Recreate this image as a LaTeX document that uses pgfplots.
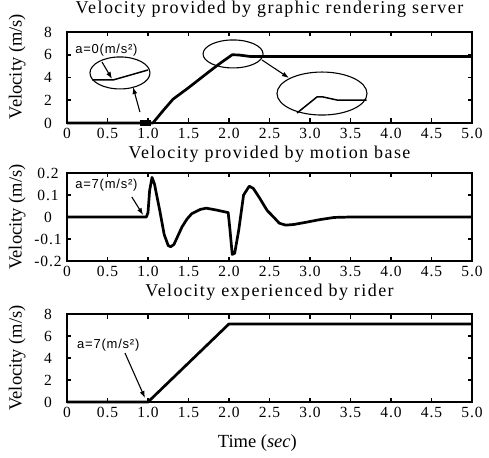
\documentclass[border=0pt]{standalone}
\usepackage{fontspec}
\setmainfont{Liberation Serif}
\newfontfamily\annfont{Liberation Sans}
\usepackage{pgfplots}
\pgfplotsset{compat=1.18}
\usetikzlibrary{arrows.meta}

\newcommand\ttlfont{\fontsize{18}{18}\selectfont\addfontfeatures{LetterSpace=8}}
\newcommand\tickfont{\fontsize{15.5}{15.5}\selectfont\addfontfeatures{LetterSpace=6}}
\newcommand\labfont{\fontsize{18.5}{18.5}\selectfont}
\newcommand\annfontsz{\annfont\fontsize{13}{13}\selectfont\addfontfeatures{LetterSpace=6}}

\tikzset{ann/.style={-{Latex[length=7pt,width=5pt]}, line width=1.1pt}}
\pgfplotsset{
  panel/.style={
    scale only axis, width=405pt, xmin=0, xmax=5,
    axis line style={line width=1.6pt},
    xtick={0,0.5,1,1.5,2,2.5,3,3.5,4,4.5,5},
    xticklabels={0,0.5,1.0,1.5,2.0,2.5,3.0,3.5,4.0,4.5,5.0},
    tick align=inside, major tick length=4.5pt,
    every tick/.style={line width=1.8pt, black},
    tick label style={font=\tickfont},
    xticklabel style={yshift=-1.5pt},
    yticklabel style={anchor=center, xshift=-19pt},
    title style={font=\ttlfont, anchor=center},
    ylabel={Velocity (m/s)},
    ylabel style={font=\labfont, at={(axis description cs:-0.123,0.5)}, anchor=center},
    clip=false,
  },
  curve/.style={black, line width=2.7pt, line join=round},
}

\begin{document}
\begin{tikzpicture}
\useasboundingbox (-67pt,0pt) rectangle (422pt,-457pt);

% top panel
\begin{axis}[panel, at={(0pt,-123pt)}, height=91pt,
  ymin=0, ymax=8, ytick={0,2,4,6,8}, yticklabels={0,2,4,6,8},
  title={Velocity provided by graphic rendering server},
  title style={at={(axis description cs:0.5,1)}, yshift=17pt},
  ylabel style={at={(axis description cs:-0.123,0.62)}}]
  \addplot[curve] coordinates {
    (0,0) (1.06,0) (1.2,1.2) (1.31,2.1) (1.5,3.1) (1.77,4.6) (1.9,5.3)
    (2.04,6.0) (2.12,5.98) (2.26,5.85) (5,5.85)
  };
  \addplot[black, line width=6pt] coordinates {(0.9,0) (1.04,0)};
  % zoom circles
  \draw[line width=1.1pt] (axis cs:0.654,4.40) ellipse [x radius=30pt, y radius=16pt];
  \draw[line width=1.5pt] (axis cs:0.309,3.78) -- (axis cs:0.568,3.78) -- (axis cs:1.0,4.66);
  \draw[line width=1.1pt] (axis cs:2.05,6.07) ellipse [x radius=30pt, y radius=14pt];
  \draw[line width=1.1pt] (axis cs:3.148,2.59) ellipse [x radius=45pt, y radius=21.5pt];
  \draw[line width=1.5pt] (axis cs:2.84,0.88) -- (axis cs:3.086,2.29) -- (axis cs:3.16,2.29)
    -- (axis cs:3.333,2.02) -- (axis cs:3.70,2.02);
  \draw[ann] (axis cs:0.432,5.36) -- (axis cs:0.556,3.87);
  \draw[ann] (axis cs:0.90,0.97) -- (axis cs:0.815,3.16);
  \draw[ann] (axis cs:2.407,5.54) -- (axis cs:2.74,3.96);
  \node[anchor=west, inner sep=0pt, font=\annfontsz] at (axis cs:0.1,6.42) {a=0(m/s²)};
\end{axis}

% middle panel
\begin{axis}[panel, at={(0pt,-261pt)}, height=88pt,
  ymin=-0.2, ymax=0.2, ytick={-0.2,-0.1,0,0.1,0.2},
  yticklabels={-0.2,-0.1,0,0.1,0.2},
  title={Velocity provided by motion base},
  title style={at={(axis description cs:0.5,1)}, yshift=13pt}]
  \addplot[curve] coordinates {
    (0,0) (0.98,0) (1.0,0.02) (1.02,0.12) (1.05,0.18) (1.08,0.15) (1.15,0.02)
    (1.2,-0.08) (1.25,-0.13) (1.28,-0.135) (1.32,-0.125) (1.37,-0.085) (1.42,-0.045)
    (1.48,-0.01) (1.54,0.015) (1.65,0.035) (1.72,0.04) (1.84,0.032) (1.99,0.02)
    (2.01,-0.05) (2.04,-0.17) (2.07,-0.165) (2.12,-0.06) (2.18,0.1)
    (2.25,0.14) (2.3,0.13) (2.38,0.085) (2.47,0.03) (2.55,0) (2.62,-0.028)
    (2.7,-0.037) (2.8,-0.034) (2.95,-0.024) (3.12,-0.012) (3.3,-0.002) (3.5,0) (5,0)
  };
  \draw[ann] (axis cs:0.80,0.091) -- (axis cs:0.94,0.009);
  \node[anchor=west, inner sep=0pt, font=\annfontsz] at (axis cs:0.1,0.145) {a=7(m/s²)};
\end{axis}

% bottom panel
\begin{axis}[panel, at={(0pt,-402pt)}, height=88pt,
  ymin=0, ymax=8, ytick={0,2,4,6,8}, yticklabels={0,2,4,6,8},
  title={Velocity experienced by rider},
  title style={at={(axis description cs:0.5,1)}, yshift=16pt},
  xlabel={Time (\textit{sec})},
  xlabel style={font=\labfont, at={(axis description cs:0.47,0)}, anchor=center, yshift=-41pt}]
  \addplot[curve] coordinates {(0,0) (1.0,0) (2.0,7.1) (5,7.1)};
  \draw[ann] (axis cs:0.716,4.45) -- (axis cs:0.963,0.36);
  \node[anchor=west, inner sep=0pt, font=\annfontsz] at (axis cs:0.123,5.18) {a=7(m/s²)};
\end{axis}
\end{tikzpicture}
\end{document}
